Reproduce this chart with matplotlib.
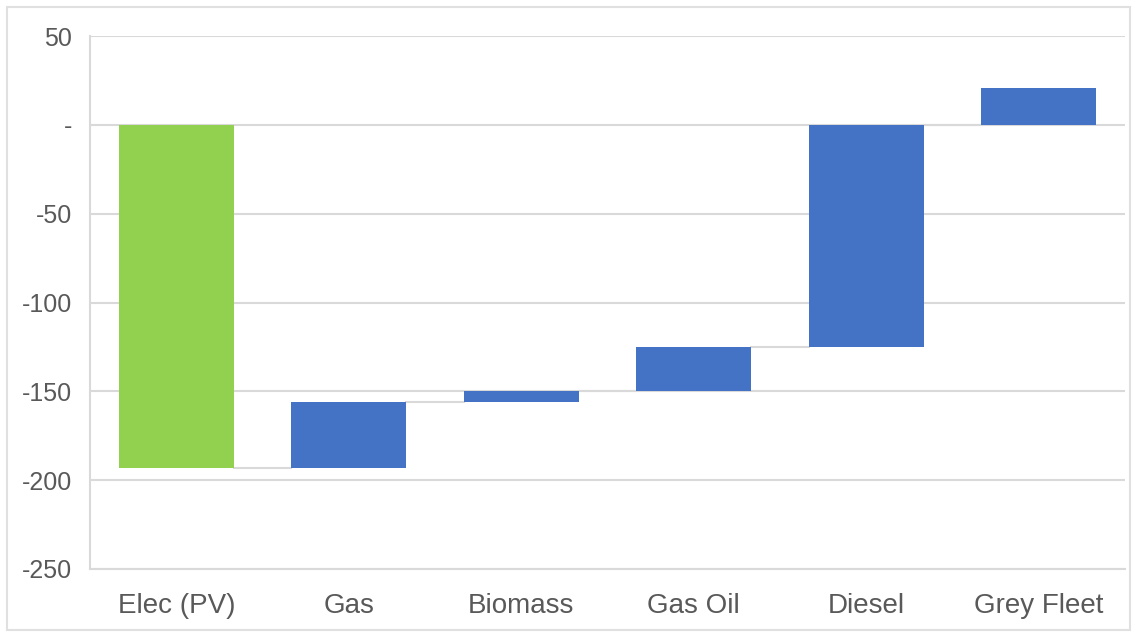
import matplotlib.pyplot as plt
import numpy as np

# waterfall data
categories = ['Elec (PV)', 'Gas', 'Biomass', 'Gas Oil', 'Diesel', 'Grey Fleet']
changes = [-193, 37, 6, 25, 125, 21]
bar_colors = ['#92D050', '#4472C4', '#4472C4', '#4472C4', '#4472C4', '#4472C4']
yticks = [50, 0, -50, -100, -150, -200, -250]
ytick_labels = ['50', '-', '-50', '-100', '-150', '-200', '-250']

plt.rcParams['font.family'] = ['Liberation Sans', 'DejaVu Sans']

ends = np.cumsum(changes)
starts = ends - np.array(changes)
x = np.arange(len(categories))
w = 0.667

fig = plt.figure(figsize=(11.34, 6.32), dpi=100)
ax = fig.add_axes([90 / 1134, 1 - 569 / 632, (1125 - 90) / 1134, (569 - 36) / 632])

ax.bar(x, changes, bottom=starts, width=w, color=bar_colors, zorder=3)

# connector lines between bars
for i in range(len(categories) - 1):
    ax.plot([x[i] + w / 2, x[i + 1] - w / 2], [ends[i], ends[i]],
            color='#D9D9D9', lw=1.5, zorder=2)

ax.set_xlim(-0.5, len(categories) - 0.5)
ax.set_ylim(-250, 50)
ax.set_yticks(yticks)
ax.set_yticklabels(ytick_labels)
ax.set_xticks(x)
ax.set_xticklabels(categories)
ax.yaxis.grid(True, color='#D9D9D9', lw=1.5, zorder=0)
ax.set_axisbelow(True)
ax.tick_params(axis='both', length=0, colors='#595959')
ax.tick_params(axis='y', pad=13, labelsize=18)
ax.tick_params(axis='x', pad=17, labelsize=20)
for s in ['top', 'right']:
    ax.spines[s].set_visible(False)
ax.spines['bottom'].set_color('#D9D9D9')
ax.spines['bottom'].set_linewidth(1.5)
ax.spines['left'].set_color('#D9D9D9')
ax.spines['left'].set_linewidth(1.5)

# light border around chart area
fig.patches.append(plt.Rectangle((7 / 1134, 2 / 632), 1123 / 1134, 623 / 632,
                                 transform=fig.transFigure, fill=False,
                                 edgecolor='#E0E0E0', lw=1.5))

fig.savefig('out.png', dpi=100)
